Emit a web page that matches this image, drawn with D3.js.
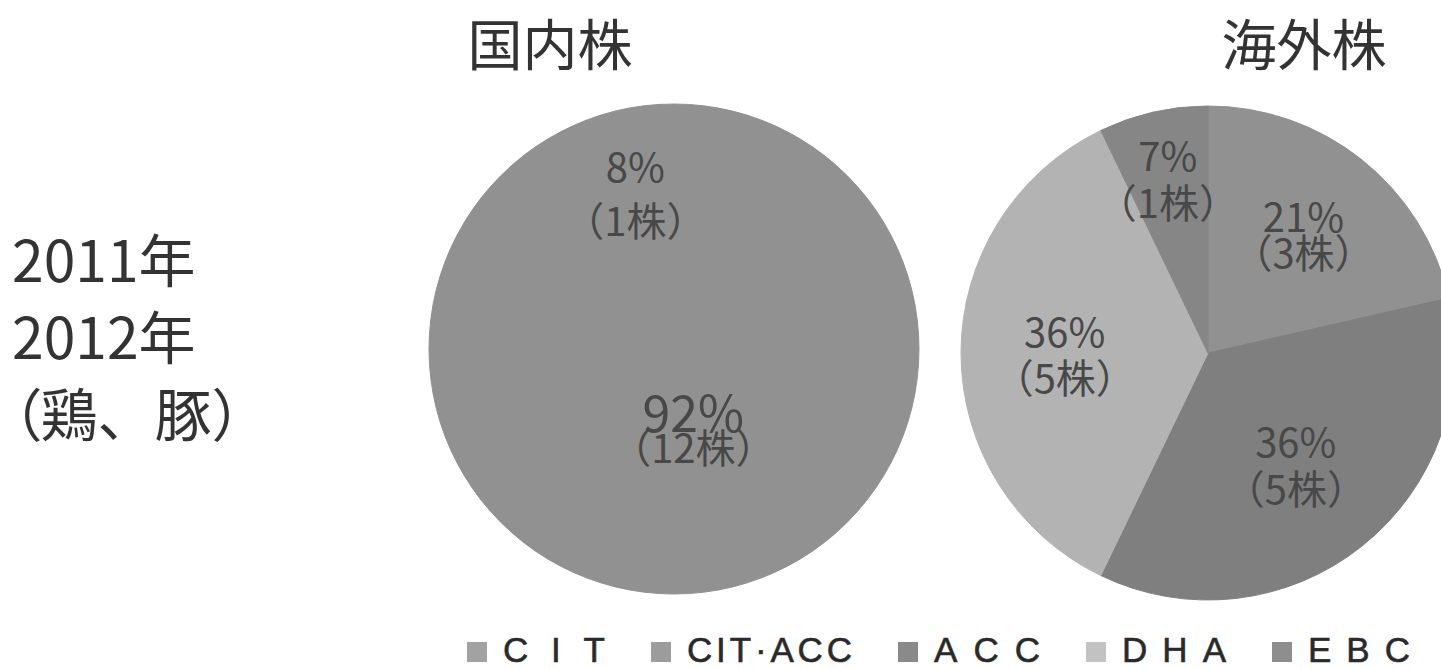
<!DOCTYPE html>
<html>
<head>
<meta charset="utf-8">
<script src="https://cdn.jsdelivr.net/npm/d3@7"></script>
<style>
  body { margin: 0; background: #fff; }
  svg { display: block; }
</style>
</head>
<body>
<svg></svg>
<script>
// Data
const categories = ['CIT', 'CIT·ACC', 'ACC', 'DHA', 'EBC']
const domesticCounts = [12, 1, 0, 0, 0]
const overseasCounts = [3, 0, 5, 5, 1]
const pieTitles = ['国内株', '海外株']
const sideLines = ['2011年', '2012年', '（鶏、豚）']

// Layout
const width = 1441
const height = 669
const svg = d3.select('svg').attr('width', width).attr('height', height)

// CIT and CIT·ACC print the same grey in the pie
const color = d3
  .scaleOrdinal()
  .domain(categories)
  .range(['#919191', '#919191', '#7f7f7f', '#b3b3b3', '#868686'])

const legendColor = d3
  .scaleOrdinal()
  .domain(categories)
  .range(['#a2a2a2', '#9c9c9c', '#8a8a8a', '#c2c2c2', '#8e8e8e'])

const pies = [
  {
    counts: domesticCounts,
    cx: 674,
    cy: 349,
    r: 245,
    titleX: 550,
    labelR: { CIT: 0.33, 'CIT·ACC': 0.66 },
    gap: { CIT: 36, 'CIT·ACC': 54 },
    size: { CIT: 50 },
  },
  {
    counts: overseasCounts,
    cx: 1208,
    cy: 353,
    r: 247,
    titleX: 1304,
    labelR: { CIT: 0.62, ACC: 0.57, DHA: 0.58, EBC: 0.73 },
    gap: { CIT: 36, ACC: 47, DHA: 46, EBC: 47 },
    size: {},
  },
]

const pie = d3.pie().sort(null).value((d) => d.value)

// Side caption; a leading full-width paren gets proportional width
const side = svg
  .append('g')
  .selectAll('text')
  .data(sideLines)
  .join('text')
  .attr('x', 12)
  .attr('y', (d, i) => 257 + i * 77)
  .attr('dominant-baseline', 'central')
  .attr('font-family', '"Noto Sans CJK JP", sans-serif')
  .attr('font-size', 57)
  .attr('fill', '#333')
side.each(function (d) {
  const t = d3.select(this)
  if (d.startsWith('（')) {
    t.append('tspan').style('font-feature-settings', '"palt"').text('（')
    t.append('tspan').text(d.slice(1))
  } else {
    t.text(d)
  }
})

// Pies
pies.forEach((p, pi) => {
  const total = d3.sum(p.counts)
  const slices = pie(categories.map((c, i) => ({ cat: c, value: p.counts[i] }))).filter(
    (d) => d.data.value > 0
  )
  const g = svg.append('g').attr('transform', `translate(${p.cx},${p.cy})`)
  const arc = d3.arc().innerRadius(0).outerRadius(p.r)

  g.selectAll('path')
    .data(slices)
    .join('path')
    .attr('d', arc)
    .attr('fill', (d) => color(d.data.cat))
    .attr('stroke', (d) => color(d.data.cat))
    .attr('stroke-width', 1)

  const labels = g
    .selectAll('g.label')
    .data(slices)
    .join('g')
    .attr('class', 'label')
    .attr('transform', (d) => {
      const lr = p.r * p.labelR[d.data.cat]
      return `translate(${d3.arc().innerRadius(lr).outerRadius(lr).centroid(d)})`
    })
    .attr('font-family', '"Noto Sans CJK JP", sans-serif')
    .attr('fill', '#484848')
    .attr('text-anchor', 'middle')

  labels
    .append('text')
    .attr('y', (d) => -p.gap[d.data.cat] / 2)
    .attr('dominant-baseline', 'central')
    .attr('font-size', (d) => p.size[d.data.cat] || 40)
    .text((d) => Math.round((d.data.value / total) * 100) + '%')

  labels
    .append('text')
    .attr('y', (d) => p.gap[d.data.cat] / 2)
    .attr('dominant-baseline', 'central')
    .attr('font-size', 40)
    .text((d) => `（${d.data.value}株）`)

  svg
    .append('text')
    .attr('x', p.titleX)
    .attr('y', 41)
    .attr('text-anchor', 'middle')
    .attr('dominant-baseline', 'central')
    .attr('font-family', '"Noto Sans CJK JP", sans-serif')
    .attr('font-size', 55)
    .attr('fill', '#333')
    .text(pieTitles[pi])
})

// Legend
const legendText = { CIT: 102, 'CIT·ACC': 165, ACC: 106, DHA: 104, EBC: 102 }
const legend = svg.append('g').attr('transform', 'translate(467,662)')
let lx = 0
categories.forEach((c) => {
  const item = legend.append('g').attr('transform', `translate(${lx},0)`)
  item
    .append('rect')
    .attr('x', 0)
    .attr('y', -20)
    .attr('width', 20)
    .attr('height', 20)
    .attr('fill', legendColor(c))
  item
    .append('text')
    .attr('x', 36)
    .attr('y', 0)
    .attr('font-family', '"Liberation Sans", Arial, sans-serif')
    .attr('font-size', 35)
    .attr('fill', '#2a2a2a')
    .attr('stroke', '#2a2a2a')
    .attr('stroke-width', 0.6)
    .attr('textLength', legendText[c])
    .attr('lengthAdjust', 'spacing')
    .text(c)
  lx += 36 + legendText[c] + 46
})
</script>
</body>
</html>
